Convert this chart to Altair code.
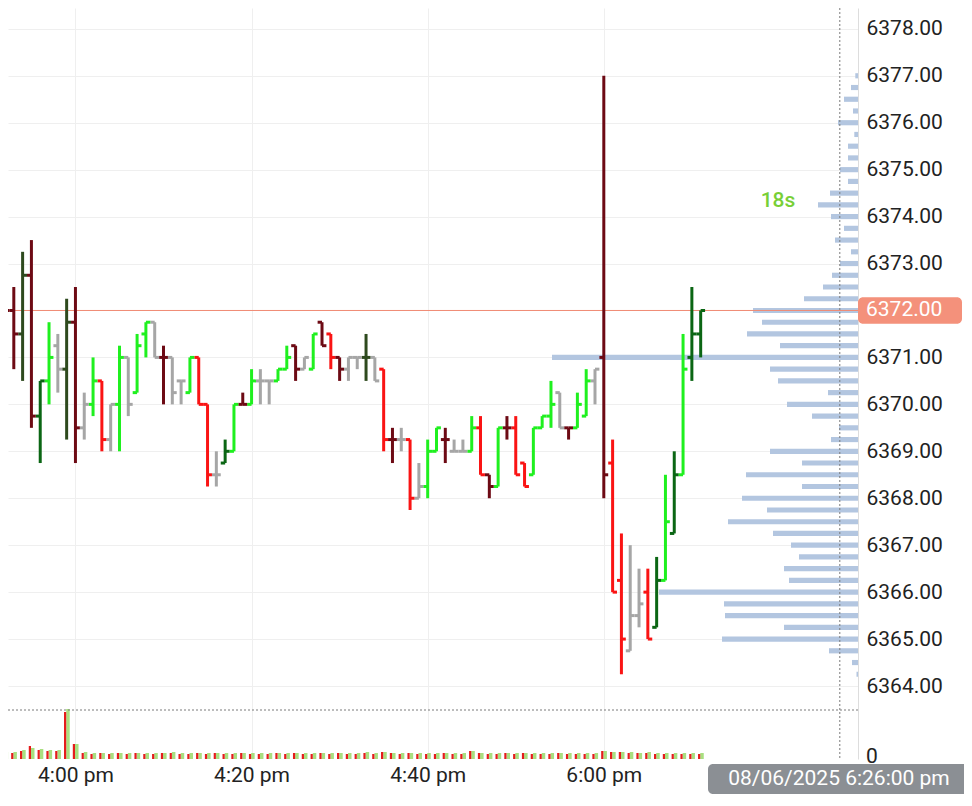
import altair as alt
import pandas as pd

# ---------------- data ----------------
# 1-minute OHLC bars: 3:52 pm .. 4:59 pm, then 6:00 pm .. 6:11 pm
opens = [6372.25, 6372.0, 6371.5, 6372.75, 6369.75, 6370.5, 6371.25, 6370.75, 6371.75, 6369.5,
         6370.0, 6370.5, 6369.25, 6370.0, 6371.0, 6370.25, 6371.5, 6371.75, 6371.0, 6371.0,
         6370.5, 6370.25, 6371.0, 6370.0, 6368.5, 6368.75, 6369.0, 6370.0, 6370.0, 6370.5,
         6370.5, 6370.5, 6370.75, 6371.25, 6370.75, 6370.75, 6371.75, 6371.5, 6371.0, 6370.75,
         6371.0, 6371.0, 6371.0, 6370.75, 6369.25, 6369.25, 6369.25, 6368.0, 6368.25, 6369.0,
         6369.25, 6369.0, 6369.0, 6369.0, 6369.5, 6368.5, 6368.25, 6369.5, 6369.5, 6368.75,
         6368.5, 6369.5, 6369.75, 6370.25, 6369.5, 6369.5, 6369.75, 6370.5,
         6371.0, 6368.75, 6366.25, 6364.75, 6365.5, 6366.0, 6365.25, 6366.25, 6367.25, 6368.5,
         6371.0, 6371.5]
highs = [6373.25, 6372.5, 6373.25, 6373.5, 6370.5, 6371.75, 6371.5, 6372.25, 6372.5, 6370.25,
         6371.0, 6370.5, 6370.0, 6371.25, 6371.0, 6371.5, 6371.75, 6371.75, 6371.25, 6371.0,
         6370.5, 6371.0, 6371.0, 6370.0, 6369.0, 6369.25, 6370.0, 6370.25, 6370.75, 6370.75,
         6370.5, 6370.75, 6371.25, 6371.25, 6371.0, 6371.5, 6371.75, 6371.5, 6371.0, 6371.0,
         6371.0, 6371.5, 6371.0, 6370.75, 6369.5, 6369.5, 6369.25, 6368.75, 6369.25, 6369.5,
         6369.5, 6369.25, 6369.25, 6369.75, 6369.75, 6368.5, 6369.5, 6369.75, 6369.75, 6368.75,
         6369.5, 6369.75, 6370.5, 6370.25, 6369.5, 6370.25, 6370.75, 6370.75,
         6377.0, 6369.25, 6367.25, 6367.0, 6366.5, 6366.5, 6366.75, 6368.5, 6369.0, 6371.5,
         6372.5, 6372.0]
lows = [6371.5, 6370.75, 6370.5, 6369.5, 6368.75, 6370.0, 6370.25, 6369.25, 6368.75, 6369.25,
        6369.75, 6369.0, 6369.0, 6369.0, 6369.75, 6370.25, 6371.0, 6371.0, 6370.0, 6370.0,
        6370.0, 6370.25, 6370.0, 6368.25, 6368.25, 6368.75, 6369.0, 6370.0, 6370.0, 6370.0,
        6370.0, 6370.5, 6370.75, 6370.5, 6370.75, 6370.75, 6371.25, 6370.75, 6370.5, 6370.5,
        6370.75, 6370.5, 6370.5, 6369.0, 6368.75, 6369.0, 6367.75, 6368.0, 6368.0, 6369.0,
        6368.75, 6369.0, 6369.0, 6369.0, 6368.5, 6368.0, 6368.25, 6369.25, 6368.5, 6368.25,
        6368.5, 6369.5, 6369.5, 6369.5, 6369.25, 6369.5, 6369.75, 6370.0,
        6368.0, 6366.0, 6364.25, 6364.75, 6365.25, 6365.0, 6365.25, 6366.25, 6367.25, 6368.5,
        6370.5, 6371.0]
closes = [6372.0, 6371.5, 6372.75, 6369.75, 6370.5, 6371.0, 6370.75, 6371.75, 6369.5, 6370.0,
          6370.5, 6369.25, 6370.0, 6371.0, 6370.0, 6371.25, 6371.75, 6371.0, 6371.0, 6370.25,
          6370.5, 6371.0, 6370.0, 6368.5, 6368.5, 6369.0, 6370.0, 6370.0, 6370.5, 6370.5,
          6370.5, 6370.75, 6371.0, 6370.75, 6371.0, 6371.5, 6371.25, 6371.0, 6370.75, 6371.0,
          6371.0, 6371.0, 6370.5, 6369.25, 6369.25, 6369.25, 6368.0, 6368.25, 6369.0, 6369.5,
          6369.25, 6369.0, 6369.0, 6369.5, 6368.5, 6368.25, 6369.5, 6369.5, 6368.5, 6368.25,
          6369.5, 6369.75, 6370.0, 6369.5, 6369.5, 6370.0, 6370.5, 6370.75,
          6368.5, 6366.0, 6365.0, 6365.5, 6365.75, 6365.0, 6366.25, 6367.5, 6368.5, 6370.75,
          6371.5, 6372.0]
# bar style class: up, down, flat, strong up, strong down, olive
kinds = ["sd", "sd", "ol", "sd", "su", "up", "fl", "ol", "sd", "fl",
         "up", "dn", "fl", "up", "fl", "up", "up", "fl", "sd", "fl",
         "fl", "up", "dn", "dn", "fl", "su", "up", "sd", "up", "fl",
         "fl", "up", "up", "sd", "fl", "up", "sd", "dn", "sd", "fl",
         "fl", "ol", "fl", "dn", "sd", "fl", "dn", "fl", "up", "up",
         "sd", "fl", "fl", "up", "dn", "sd", "up", "sd", "dn", "dn",
         "up", "up", "up", "fl", "sd", "up", "up", "fl",
         "sd", "dn", "dn", "fl", "fl", "dn", "su", "up", "su", "up",
         "su", "su"]
# volume per bar (buy / sell)
buy_vol = [700, 700, 900, 1100, 1000, 900, 900, 5000, 1500, 700,
           600, 600, 600, 600, 600, 600, 600, 600, 600, 700,
           600, 600, 600, 600, 600, 600, 600, 600, 600, 600,
           600, 600, 600, 600, 600, 600, 600, 600, 600, 600,
           600, 700, 600, 700, 600, 600, 600, 600, 600, 600,
           600, 600, 600, 800, 600, 600, 600, 600, 600, 600,
           600, 600, 600, 600, 600, 600, 600, 600,
           800, 700, 700, 700, 600, 700, 600, 600, 600, 600, 600, 600]
sell_vol = [600, 600, 800, 1300, 900, 800, 800, 4700, 1500, 600,
            500, 600, 500, 600, 500, 600, 500, 500, 600, 600,
            500, 500, 600, 500, 600, 500, 500, 600, 500, 500,
            500, 600, 500, 600, 500, 500, 600, 500, 600, 500,
            500, 600, 500, 700, 600, 500, 600, 500, 500, 500,
            600, 500, 500, 800, 600, 500, 500, 600, 500, 600,
            500, 500, 500, 600, 500, 500, 500, 500,
            800, 700, 700, 600, 600, 600, 500, 500, 500, 500, 500, 500]

# volume profile (price level -> volume)
profile_prices = [6377.0 - 0.25 * k for k in range(52)]
profile_vol = [27, 70, 140, 50, 200, 37, 100, 100, 180, 100,
               280, 400, 270, 140, 230, 70, 180, 260, 350, 540,
               1050, 960, 1110, 780, 3060, 880, 800, 300, 710, 460,
               190, 270, 880, 560, 1120, 560, 1160, 910, 1300, 850,
               670, 590, 740, 690, 1990, 1340, 1330, 740, 1360, 290,
               60, 15]

axis_ticks = [6364, 6365, 6366, 6367, 6368, 6369, 6370, 6371, 6372,
              6373, 6374, 6375, 6376, 6377, 6378]
x_tick_idx = [8, 28, 48, 68]
x_tick_lab = ["4:00 pm", "4:20 pm", "4:40 pm", "6:00 pm"]
last_price = 6372.0
countdown = "18s"
crosshair_idx = 94.8
crosshair_vol = 4900
date_label = "08/06/2025 6:26:00 pm"

times = [f"{3 + (52 + k) // 60}:{(52 + k) % 60:02d} pm" for k in range(68)] + \
        [f"6:{k:02d} pm" for k in range(12)]

df = pd.DataFrame({"i": list(range(len(opens))), "t": times, "o": opens, "h": highs,
                   "l": lows, "c": closes, "k": kinds, "bv": buy_vol, "sv": sell_vol})
prof = pd.DataFrame({"p": profile_prices, "v": profile_vol})

# ---------------- scales ----------------
W, H = 850, 751
xs = alt.Scale(domain=[0.3407, 96.866], nice=False, zero=False)
ys = alt.Scale(domain=[6362.445, 6378.444], nice=False, zero=False)
vs = alt.Scale(domain=[0, 75100], nice=False, zero=False)
ps = alt.Scale(domain=[0, 8500], reverse=True, nice=False, zero=False)

kind_dom = ["up", "dn", "fl", "su", "sd", "ol"]
kind_rng = ["#1ff01f", "#fa1414", "#a6a6a6", "#0b6614", "#6d0a14", "#2e4a1e"]
col = alt.Color("k:N", scale=alt.Scale(domain=kind_dom, range=kind_rng), legend=None)

label_expr = " : ".join(
    f"datum.value == {v} ? '{s}'" for v, s in zip(x_tick_idx, x_tick_lab)) + " : ''"

x_axis = alt.Axis(values=x_tick_idx, labelExpr=label_expr, title=None, grid=True,
                  gridColor="#efefef", domain=False, ticks=False, tickSize=0,
                  labelPadding=5, labelFontSize=21, labelColor="#222222",
                  labelFont="Roboto", labelOverlap=False)
y_axis = alt.Axis(values=axis_ticks, format=".2f", title=None, orient="right", grid=True,
                  gridColor="#efefef", domain=True, domainColor="#dddddd", ticks=False,
                  tickSize=0, labelPadding=8, labelFontSize=21, labelColor="#222222",
                  labelFont="Roboto", labelAlign="left", labelBaseline="middle",
                  labelOverlap=False)

# ---------------- volume profile ----------------
profile = alt.Chart(prof).transform_calculate(
    y1="datum.p - 0.055", y2="datum.p + 0.055", z="0"
).mark_bar(color="#b3c6e0").encode(
    x=alt.X("v:Q", scale=ps, axis=None),
    x2="z:Q",
    y=alt.Y("y1:Q", scale=ys, axis=None),
    y2="y2:Q",
)

# ---------------- price layer ----------------
base = alt.Chart(df)
wick = base.mark_rule(strokeWidth=3, clip=True).encode(
    x=alt.X("i:Q", scale=xs, axis=x_axis),
    y=alt.Y("l:Q", scale=ys, axis=y_axis),
    y2="h:Q",
    color=col,
)
open_tick = base.transform_calculate(xo="datum.i - 0.5").mark_rule(
    strokeWidth=3, clip=True).encode(
    x=alt.X("xo:Q", scale=xs, title=None),
    x2="i:Q",
    y=alt.Y("o:Q", scale=ys, title=None),
    color=col,
)
close_tick = base.transform_calculate(xc="datum.i + 0.5").mark_rule(
    strokeWidth=3, clip=True).encode(
    x=alt.X("i:Q", scale=xs, title=None),
    x2="xc:Q",
    y=alt.Y("c:Q", scale=ys, title=None),
    color=col,
)

lp = pd.DataFrame({"p": [last_price], "p1": [last_price - 0.28], "p2": [last_price + 0.28],
                   "lab": [f"{last_price:.2f}"]})
last_line = alt.Chart(lp).mark_rule(color="#f08a74", strokeWidth=1).encode(
    y=alt.Y("p:Q", scale=ys, title=None))
last_box = alt.Chart(lp).mark_rect(color="#f4917b", cornerRadius=5).encode(
    x=alt.value(W), x2=alt.value(W + 104),
    y=alt.Y("p1:Q", scale=ys, title=None), y2="p2:Q")
last_text = alt.Chart(lp).mark_text(align="left", baseline="middle", color="white",
                                    fontSize=21, font="Roboto").encode(
    x=alt.value(W + 8), y=alt.Y("p:Q", scale=ys, title=None), text="lab:N")

cd = pd.DataFrame({"x": [87.78], "p": [6374.33], "s": [countdown]})
cd_text = alt.Chart(cd).mark_text(color="#78cf36", fontSize=21, fontWeight=500,
                                  font="Roboto", baseline="middle").encode(
    x=alt.X("x:Q", scale=xs, title=None), y=alt.Y("p:Q", scale=ys, title=None), text="s:N")

ch = pd.DataFrame({"x": [crosshair_idx], "v": [crosshair_vol], "lab": [date_label]})
cross_v = alt.Chart(ch).mark_rule(color="#7a7a7a", strokeWidth=1, strokeDash=[2, 2]).encode(
    x=alt.X("x:Q", scale=xs, title=None))

price = alt.layer(last_line, wick, open_tick, close_tick, cd_text, cross_v,
                  last_box, last_text)

# ---------------- volume layer ----------------
vbase = alt.Chart(df).transform_calculate(
    xg1="datum.i - 0.05", xg2="datum.i + 0.35", xr1="datum.i - 0.3", xr2="datum.i - 0.05", z="0")
vol_buy = vbase.mark_bar(color="#a9df80", clip=True).encode(
    x=alt.X("xg1:Q", scale=xs, axis=None), x2="xg2:Q",
    y=alt.Y("bv:Q", scale=vs, axis=None), y2="z:Q")
vol_sell = vbase.mark_bar(color="#e51c1c", clip=True).encode(
    x=alt.X("xr1:Q", scale=xs, axis=None), x2="xr2:Q",
    y=alt.Y("sv:Q", scale=vs, axis=None), y2="z:Q")
cross_h = alt.Chart(ch).mark_rule(color="#7a7a7a", strokeWidth=1, strokeDash=[2, 2]).encode(
    y=alt.Y("v:Q", scale=vs, axis=None))
zero_df = pd.DataFrame({"v": [0], "s": ["0"]})
zero_text = alt.Chart(zero_df).mark_text(align="left", baseline="middle", fontSize=21,
                                         font="Roboto", color="#222222", dy=-2).encode(
    x=alt.value(W + 8), y=alt.Y("v:Q", scale=vs, axis=None), text="s:N")
date_box = alt.Chart(ch).mark_rect(color="#8b8f94", cornerRadius=5).encode(
    x=alt.value(700), x2=alt.value(962), y=alt.value(756), y2=alt.value(786))
date_text = alt.Chart(ch).mark_text(color="white", fontSize=21, font="Roboto",
                                    align="center", baseline="middle").encode(
    x=alt.value(831), y=alt.value(771), text="lab:N")

volume = alt.layer(vol_buy, vol_sell, cross_h, zero_text, date_box, date_text)

chart = alt.layer(profile, price, volume).resolve_scale(
    x="independent", y="independent"
).properties(
    width=W, height=H, background="white",
    padding={"left": 0, "top": 0, "right": 106, "bottom": 36},
    autosize=alt.AutoSizeParams(type="none"),
).configure(font="Roboto").configure_view(stroke=None)

chart.save("out.html", embed_options={"renderer": "svg", "actions": False})
